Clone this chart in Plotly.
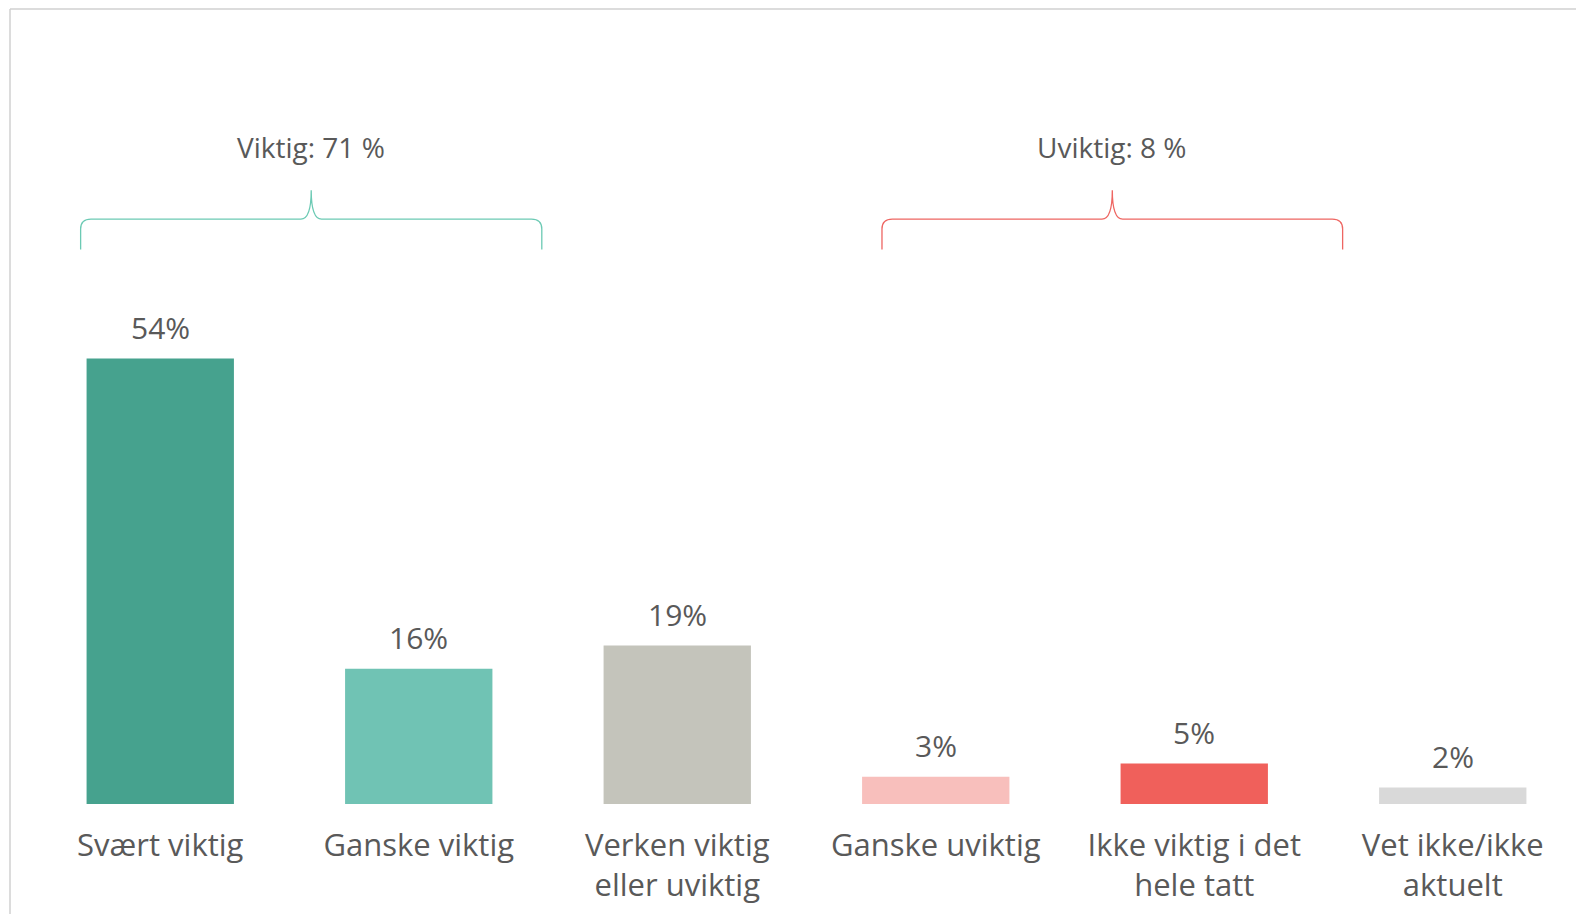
import plotly.graph_objects as go

categories = ["Svært viktig", "Ganske viktig", "Verken viktig<br>eller uviktig",
              "Ganske uviktig", "Ikke viktig i det<br>hele tatt", "Vet ikke/ikke<br>aktuelt"]
values = [54.0, 16.4, 19.2, 3.3, 4.9, 2.0]
bar_colors = ["#46A28E", "#70C3B4", "#C4C4BB", "#F8BFBC", "#F0605B", "#D9D9D9"]

group_labels = ["Viktig: 71 %", "Uviktig: 8 %"]
group_spans = [(-0.308, 1.476), (2.792, 4.574)]
group_colors = ["#6CCAB4", "#EE6662"]

W, H = 1584, 914
ML, MR, MT, MB = 23, 10, 12, 118
YMAX = (H - MT - MB) / 8.25
TXT = "#595959"
FONT = "Open Sans"

x_idx = list(range(len(categories)))

fig = go.Figure()
fig.add_trace(go.Bar(x=x_idx, y=values, marker=dict(color=bar_colors, line=dict(width=0)),
                     width=0.57, hoverinfo="skip"))

for i, v in zip(x_idx, values):
    fig.add_annotation(x=i, y=v, text=f"{round(v)}%", showarrow=False, yanchor="bottom",
                       yshift=9, font=dict(family=FONT, size=30, color=TXT))

shapes = []
y_end, y_h, y_peak = 67.2, 70.9, 74.4
for (a, b), col, lab in zip(group_spans, group_colors, group_labels):
    c = (a + b) / 2
    r = 0.04
    ry = 1.2
    path = (f"M {a},{y_end} L {a},{y_h-ry} Q {a},{y_h} {a+r},{y_h} "
            f"L {c-r},{y_h} Q {c},{y_h} {c},{y_peak} "
            f"Q {c},{y_h} {c+r},{y_h} L {b-r},{y_h} Q {b},{y_h} {b},{y_h-ry} L {b},{y_end}")
    shapes.append(dict(type="path", path=path, xref="x", yref="y",
                       line=dict(color=col, width=1.3)))
    fig.add_annotation(x=c, y=79.6, text=lab, showarrow=False,
                       font=dict(family=FONT, size=28, color=TXT))

# frame lines
ph = H - MT - MB
pw = W - ML - MR
ytop = (H - MB - 1) / ph
xl = (2 - ML) / pw
shapes.append(dict(type="line", xref="paper", yref="paper",
                   x0=xl, x1=(W - ML) / pw, y0=ytop, y1=ytop,
                   line=dict(color="#D0D0D0", width=1.5)))
shapes.append(dict(type="line", xref="paper", yref="paper",
                   x0=xl, x1=xl, y0=ytop, y1=-MB / ph,
                   line=dict(color="#D0D0D0", width=1.5)))

fig.update_layout(
    width=W, height=H, margin=dict(l=ML, r=MR, t=MT, b=MB),
    plot_bgcolor="white", paper_bgcolor="white", showlegend=False,
    shapes=shapes,
    xaxis=dict(range=[-0.5, 5.5], tickvals=x_idx, ticktext=categories, showgrid=False,
               zeroline=False, showline=False, ticks="", ticklabelstandoff=20,
               tickfont=dict(family=FONT, size=31, color=TXT)),
    yaxis=dict(range=[0, YMAX], visible=False),
)
fig.write_html("out.html")
